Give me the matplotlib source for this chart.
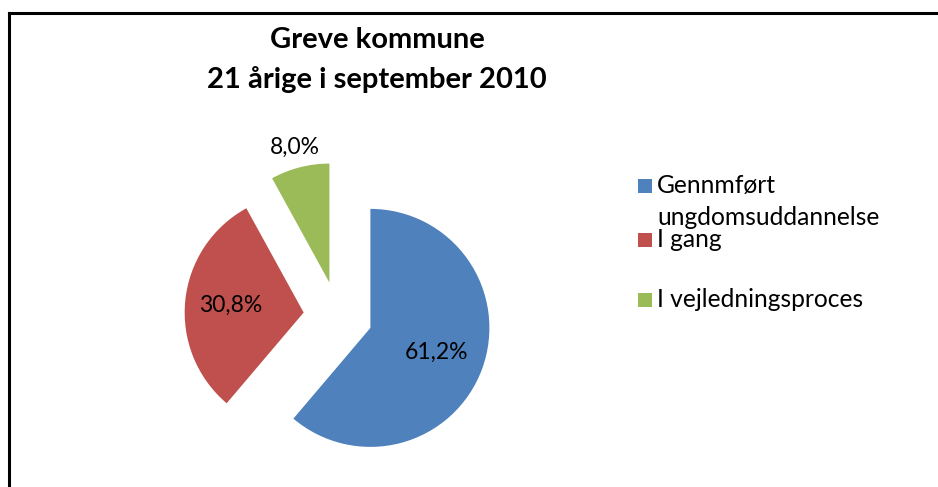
import numpy as np
import matplotlib.pyplot as plt
from matplotlib.patches import Rectangle
from matplotlib.lines import Line2D

plt.rcParams['font.family'] = ['Lato', 'DejaVu Sans']

# data
categories = ["Gennmført\nungdomsuddannelse", "I gang", "I vejledningsproces"]
shares = [61.2, 30.8, 8.0]
colors = ["#4F81BD", "#C0504D", "#9BBB59"]
title = "Greve kommune\n21 årige i september 2010"

W, H = 938, 487
fig = plt.figure(figsize=(W / 100, H / 100), dpi=100)

# pie axes: 1 data unit = R px, common centre at (cx, cy) in image px
R = 119
cx, cy = 338, 316
half = 1.6
ax = fig.add_axes([(cx - half * R) / W, (H - cy - half * R) / H,
                   2 * half * R / W, 2 * half * R / H])

explode = [0.29] * len(shares)
wedges, _ = ax.pie(shares, colors=colors, startangle=90, counterclock=False,
                   explode=explode, radius=1,
                   wedgeprops=dict(linewidth=0))
ax.set_xlim(-half, half)
ax.set_ylim(-half, half)
ax.set_aspect('auto')
ax.axis('off')

# percentage labels, placed like Excel's best fit
label_dist = [0.59, 0.62, 1.17]
for w, val, d in zip(wedges, shares, label_dist):
    ang = np.deg2rad((w.theta1 + w.theta2) / 2)
    x0, y0 = w.center
    ax.text(x0 + d * np.cos(ang), y0 + d * np.sin(ang),
            f"{val:.1f}%".replace('.', ','), ha='center', va='center',
            fontsize=16.5, color='black')

# title, one line at a time
for i, line in enumerate(title.split('\n')):
    fig.text(377 / W, 1 - (48 + 40 * i) / H, line, ha='center',
             va='baseline', fontsize=21, fontweight='bold')

# legend drawn by hand to mimic Excel layout
leg_base = [193, 247, 307]
for lab, col, y in zip(categories, colors, leg_base):
    fig.patches.append(Rectangle((638 / W, 1 - y / H), 14 / W, 14 / H,
                                 transform=fig.transFigure, facecolor=col,
                                 edgecolor='none'))
    for j, line in enumerate(lab.split('\n')):
        fig.text(657 / W, 1 - (y + 32 * j) / H, line, ha='left',
                 va='baseline', fontsize=17.7)

# frame (top and left edges visible)
fig.add_artist(Line2D([9 / W, 1], [1 - 13 / H, 1 - 13 / H],
                      transform=fig.transFigure, color='black', lw=2.2))
fig.add_artist(Line2D([9 / W, 9 / W], [0, 1 - 13 / H],
                      transform=fig.transFigure, color='black', lw=2.2))

fig.savefig('out.png', dpi=100, facecolor='white')
